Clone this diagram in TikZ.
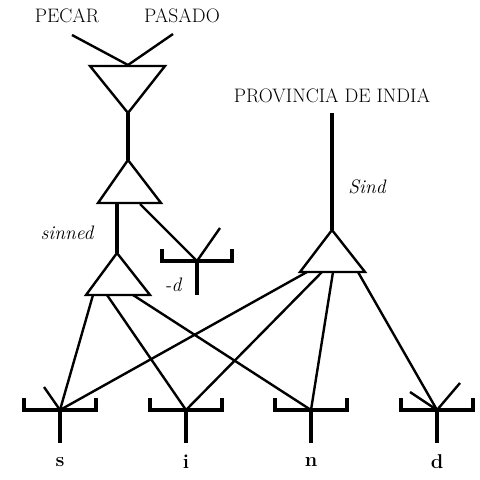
\documentclass[tikz,border=0pt]{standalone}
\usepackage{fontspec}
\begin{document}
\begin{tikzpicture}[x=1pt,y=-1pt,
  thin/.style={line width=2.4pt},
  thick/.style={line width=4pt},
  brk/.style={line width=4pt},
  lbl/.style={inner sep=0pt,font=\fontsize{19.5}{22}\selectfont},
  ilbl/.style={inner sep=0pt,font=\fontsize{19.5}{22}\selectfont\itshape},
  blbl/.style={inner sep=0pt,font=\fontsize{20}{22}\selectfont\bfseries}]
\useasboundingbox (0,0) rectangle (480,480);
% labels
\node[lbl] (pecar) at (67,16) {PECAR};
\node[lbl] (pasado) at (182,16) {PASADO};
\node[lbl] (prov) at (332,96) {PROVINCIA DE INDIA};
\node[ilbl] (sinned) at (67,233) {sinned};
\node[ilbl] (sind) at (367,187) {Sind};
\node[ilbl] (dlab) at (173,285) {-d};
% coordinates
\coordinate (pe) at (72,35);
\coordinate (pa) at (173,34);
\coordinate (m1) at (128,65);
\coordinate (t1l) at (90,66);
\coordinate (t1r) at (165,66);
\coordinate (t1a) at (128,113);
\coordinate (t2a) at (128,160);
\coordinate (t2l) at (98,203);
\coordinate (t2r) at (161,203);
\coordinate (t2s) at (117,203);
\coordinate (t2d) at (140,204);
\coordinate (t3a) at (117,253);
\coordinate (t3l) at (86,295);
\coordinate (t3r) at (150,295);
\coordinate (t3s) at (93,295);
\coordinate (t3i) at (107,295);
\coordinate (t3n) at (133,295);
\coordinate (dj) at (197,261);
\coordinate (djs) at (220,228);
\coordinate (pv) at (332,113);
\coordinate (t4a) at (332,230);
\coordinate (t4l) at (300,272);
\coordinate (t4r) at (365,272);
\coordinate (t4s) at (307,272);
\coordinate (t4i) at (322,272);
\coordinate (t4n) at (333,272);
\coordinate (t4d) at (358,272);
\coordinate (js) at (60,410);
\coordinate (ji) at (186,410);
\coordinate (jn) at (311,410);
\coordinate (jd) at (437,410);
\coordinate (ss) at (44,387);
\coordinate (ds1) at (410,392);
\coordinate (ds2) at (460,383);
% top
\draw[thin] (pe) -- (m1) -- (pa);
\draw[thin] (t1l) -- (t1r) -- (t1a) -- cycle;
\draw[thick] (t1a) -- (t2a);
\draw[thin] (t2a) -- (t2r) -- (t2l) -- cycle;
\draw[thick] (t2s) -- (t3a);
\draw[thin] (t3a) -- (t3r) -- (t3l) -- cycle;
\draw[thin] (t2d) -- (dj);
\draw[thin] (dj) -- (djs);
\draw[brk] ([xshift=-35pt,yshift=12pt]dj) -- ([xshift=-35pt]dj) -- ([xshift=35pt]dj) -- ([xshift=35pt,yshift=12pt]dj);
\draw[thick] (dj) -- ([yshift=-34pt]dj);
\draw[thick] (pv) -- (t4a);
\draw[thin] (t4a) -- (t4r) -- (t4l) -- cycle;
% connectors
\draw[thin] (t3s) -- (js);
\draw[thin] (t3i) -- (ji);
\draw[thin] (t3n) -- (jn);
\draw[thin] (t4s) -- (js);
\draw[thin] (t4i) -- (ji);
\draw[thin] (t4n) -- (jn);
\draw[thin] (t4d) -- (jd);
\draw[thin] (js) -- (ss);
\draw[thin] (jd) -- (ds1);
\draw[thin] (jd) -- (ds2);
% brackets
\foreach \j in {js,ji,jn,jd}{
  \draw[brk] ([xshift=-36pt,yshift=12pt]\j) -- ([xshift=-36pt]\j) -- ([xshift=36pt]\j) -- ([xshift=36pt,yshift=12pt]\j);
  \draw[thick] (\j) -- ([yshift=-33pt]\j);
}
\node[blbl] (ls) at (60,462) {s};
\node[blbl] (li) at (186,462) {i};
\node[blbl] (ln) at (311,462) {n};
\node[blbl] (ld) at (437,462) {d};
\end{tikzpicture}
\end{document}
